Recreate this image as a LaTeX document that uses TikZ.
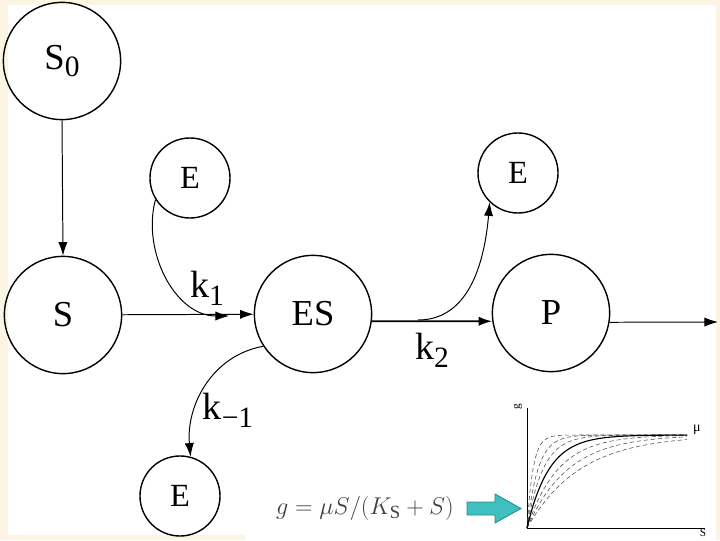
\documentclass[tikz,border=0pt]{standalone}
\usepackage{fontspec}
\setmainfont{Liberation Serif}
\usetikzlibrary{arrows.meta}
\definecolor{slidebg}{RGB}{252,245,228}
\definecolor{arrowteal}{RGB}{62,192,192}
\definecolor{arrowedge}{RGB}{40,140,140}
\newcommand\lowsub[1]{\raisebox{-0.45ex}{\fontsize{21}{21}\selectfont #1}}

\begin{document}
\begin{tikzpicture}[x=0.025cm,y=0.025cm,
    species/.style={circle,draw,line width=1pt,inner sep=0pt,minimum size=2.93cm,
      font=\fontsize{26}{28}\selectfont},
    enzyme/.style={species,minimum size=2cm,font=\fontsize{23}{25}\selectfont},
    flux/.style={-{Latex[length=3.4mm,width=2.3mm]},line width=0.7pt},
    rate/.style={font=\fontsize{27}{29}\selectfont}]
  % slide background
  \fill[slidebg] (0,0) rectangle (720,540);
  \fill[white] (8,5) rectangle (716,535);
  \fill[white] (245,0) rectangle (716,60);
  \useasboundingbox (0,0) rectangle (720,540);

  % species and enzyme
  \node[species] (s0) at (62,479) {S\lowsub{0}};
  \node[species] (s) at (63,225) {S};
  \node[species] (es) at (313,226) {ES};
  \node[species] (p) at (551,227) {P};
  \node[enzyme] (e1) at (190,362) {E};
  \node[enzyme] (e2) at (518,367) {E};
  \node[enzyme] (e3) at (180,44) {E};

  \coordinate (k1in) at (229,224);
  \coordinate (k2out) at (418,220);
  \coordinate (pout) at (718,218);

  % reactions
  \draw[flux] (s0.south) -- (s.north);
  \draw[flux] (s) -- (es);
  \draw[flux] (e1.212) to[out=255,in=180] (k1in);
  \draw[flux,line width=1.3pt] (es.-7) -- (p.188);
  \draw[flux] (k2out) to[out=0,in=-95] (e2.226);
  \draw[flux] (es.213) to[out=190,in=95] (e3.75);
  \draw[flux] (p.-9) -- (pout);

  \node[rate] (k1) at (207,252) {k\lowsub{1}};
  \node[rate] (k2) at (432,190) {k\lowsub{2}};
  \node[rate] (km1) at (228,130) {k\lowsub{−1}};

  % Monod law
  \node[text=black!75,font=\fontsize{19}{19}\selectfont] (monod) at (365,32)
    {$g=\mu S/(K_{\mathrm{S}}+S)$};
  \filldraw[fill=arrowteal,draw=arrowedge,line width=0.6pt]
    (467,25) -- (495,25) -- (495,17) -- (521,31.5) -- (495,46) -- (495,38) -- (467,38) -- cycle;

  % growth curves
  \draw[line width=0.7pt] (527,132) -- (527,12) -- (705,12);
  \foreach \a in {6,11,16,31,41,53}
    \draw[dashed,dash pattern=on 3pt off 2pt,black!70,line width=0.4pt,domain=0:160,samples=60,smooth]
      plot ({527+\x},{12+93*(1-exp(-\x/\a))});
  \draw[line width=0.8pt,domain=0:160,samples=60,smooth]
    plot ({527+\x},{12+93*(1-exp(-\x/22))});
  \node[font=\fontsize{8}{8}\selectfont,rotate=90] (gaxis) at (518,133) {g};
  \node[font=\fontsize{8}{8}\selectfont] (saxis) at (703,7) {S};
  \node[font=\fontsize{10}{10}\selectfont] (mu) at (697,110) {μ};
\end{tikzpicture}
\end{document}
